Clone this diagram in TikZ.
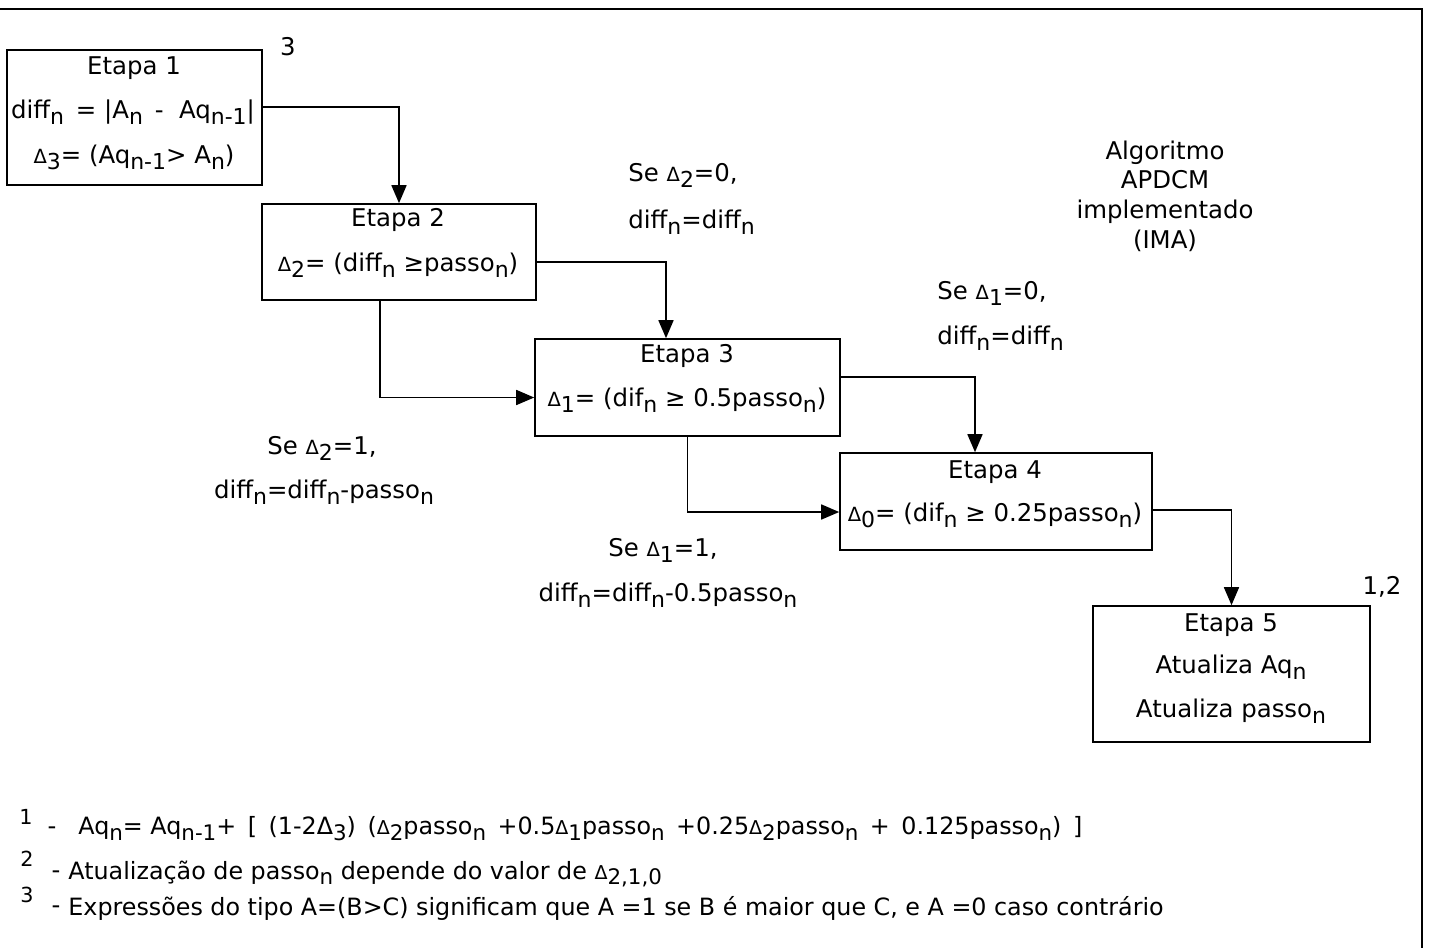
\documentclass[tikz,border=0pt]{standalone}
\usepackage{fontspec}
\setmainfont{DejaVu Sans}
\usetikzlibrary{arrows.meta}
% lowered, slightly smaller index text
\newcommand\lo[1]{\raisebox{-0.45ex}{\scalebox{0.9}{#1}}}
% small delta symbol
\newcommand\dlt{\scalebox{0.8}{Δ}}
\begin{document}
\begin{tikzpicture}[x=0.5pt,y=-0.5pt,
  font=\fontsize{12.2}{14}\selectfont,
  stagebox/.style={draw,line width=0.8pt,inner sep=0pt},
  txt/.style={inner sep=0pt,anchor=center},
  ltxt/.style={inner sep=0pt,anchor=west},
  note/.style={inner sep=0pt,anchor=west,font=\fontsize{11.9}{14}\selectfont},
  arr/.style={line width=0.8pt,-{Triangle[length=9pt,width=7.5pt]}},
  link/.style={line width=0.8pt}]
\useasboundingbox (0,0) rectangle (1437,948);

% outer frame
\coordinate (fa) at (0,9);
\coordinate (fb) at (1422,9);
\coordinate (fc) at (1422,948);
\draw[link] (fa) -- (fb) -- (fc);

% stage boxes
\node[stagebox,minimum width=127.5pt,minimum height=67.5pt] (b1) at (134.5,117.5) {};
\node[stagebox,minimum width=137pt,minimum height=48pt] (b2) at (399,252) {};
\node[stagebox,minimum width=152.5pt,minimum height=48.5pt] (b3) at (687.5,387.5) {};
\node[stagebox,minimum width=156pt,minimum height=48.5pt] (b4) at (996,501.5) {};
\node[stagebox,minimum width=138.5pt,minimum height=68pt] (b5) at (1231.5,674) {};

% box contents
\node[txt] (b1a) at (134,68) {Etapa 1};
\node[txt] (b1b) at (133,112) {diff\lo{n}\ \,= |A\lo{n}\ \,- \ Aq\lo{n-1}|};
\node[txt] (b1c) at (134,157) {\dlt\lo{3}= (Aq\lo{n-1}> A\lo{n})};
\node[txt] (b2a) at (398,220) {Etapa 2};
\node[txt] (b2b) at (398,265) {\dlt\lo{2}= (diff\lo{n} ≥passo\lo{n})};
\node[txt] (b3a) at (687,356) {Etapa 3};
\node[txt] (b3b) at (687,400) {\dlt\lo{1}= (dif\lo{n} ≥ 0.5passo\lo{n})};
\node[txt] (b4a) at (995,472) {Etapa 4};
\node[txt] (b4b) at (995,515) {\dlt\lo{0}= (dif\lo{n} ≥ 0.25passo\lo{n})};
\node[txt] (b5a) at (1231,625) {Etapa 5};
\node[txt] (b5b) at (1231,667) {Atualiza Aq\lo{n}};
\node[txt] (b5c) at (1231,711) {Atualiza passo\lo{n}};

% footnote marks on boxes
\node[txt] (m3) at (288,47) {3};
\node[txt] (m12) at (1382,587) {1,2};

% connectors
\draw[arr] ([yshift=5.25pt]b1.east) -| (b2.north);
\draw[arr] ([yshift=-5pt]b2.east) -| ([xshift=-10.75pt]b3.north);
\draw[arr] ([xshift=-9.5pt]b2.south) |- ([yshift=-5pt]b3.west);
\draw[arr] ([yshift=5.25pt]b3.east) -| ([xshift=-10.5pt]b4.north);
\draw[arr] (b3.south) |- ([yshift=-5.25pt]b4.west);
\draw[arr] ([yshift=-4.25pt]b4.east) -| (b5.north);

% branch conditions
\node[ltxt] (c20a) at (628,175) {Se \dlt\lo{2}=0,};
\node[ltxt] (c20b) at (628,222) {diff\lo{n}=diff\lo{n}};
\node[ltxt] (c10a) at (937,293) {Se \dlt\lo{1}=0,};
\node[ltxt] (c10b) at (937,338) {diff\lo{n}=diff\lo{n}};
\node[txt] (c21a) at (322,448) {Se \dlt\lo{2}=1,};
\node[txt] (c21b) at (324,492) {diff\lo{n}=diff\lo{n}-passo\lo{n}};
\node[txt] (c11a) at (663,550) {Se \dlt\lo{1}=1,};
\node[txt] (c11b) at (668,595) {diff\lo{n}=diff\lo{n}-0.5passo\lo{n}};

% title
\node[txt,align=center,font=\fontsize{12.2}{14.8}\selectfont] (title) at (1165,196)
  {Algoritmo\\APDCM\\implementado\\(IMA)};

% footnotes
\node[txt] (n1) at (26,817) {\scalebox{0.85}{1}};
\node[txt] (d1) at (52,831) {-};
\node[note] (f1) at (78,829) {Aq\lo{n}= Aq\lo{n-1}+ \,[ \,(1-2Δ\lo{3}) \,(\dlt\lo{2}passo\lo{n} \,+0.5\dlt\lo{1}passo\lo{n} \,+0.25\dlt\lo{2}passo\lo{n} \,+ \,0.125passo\lo{n}) \,]};
\node[txt] (n2) at (27,859) {\scalebox{0.85}{2}};
\node[txt] (d2) at (56,875) {-};
\node[note] (f2) at (68,874) {Atualização de passo\lo{n} depende do valor de \dlt\lo{2,1,0}};
\node[txt] (n3) at (27,895) {\scalebox{0.85}{3}};
\node[txt] (d3) at (56,910) {-};
\node[note] (f3) at (68,908) {Expressões do tipo A=(B>C) significam que A =1 se B é maior que C, e A =0 caso contrário};
\end{tikzpicture}
\end{document}
